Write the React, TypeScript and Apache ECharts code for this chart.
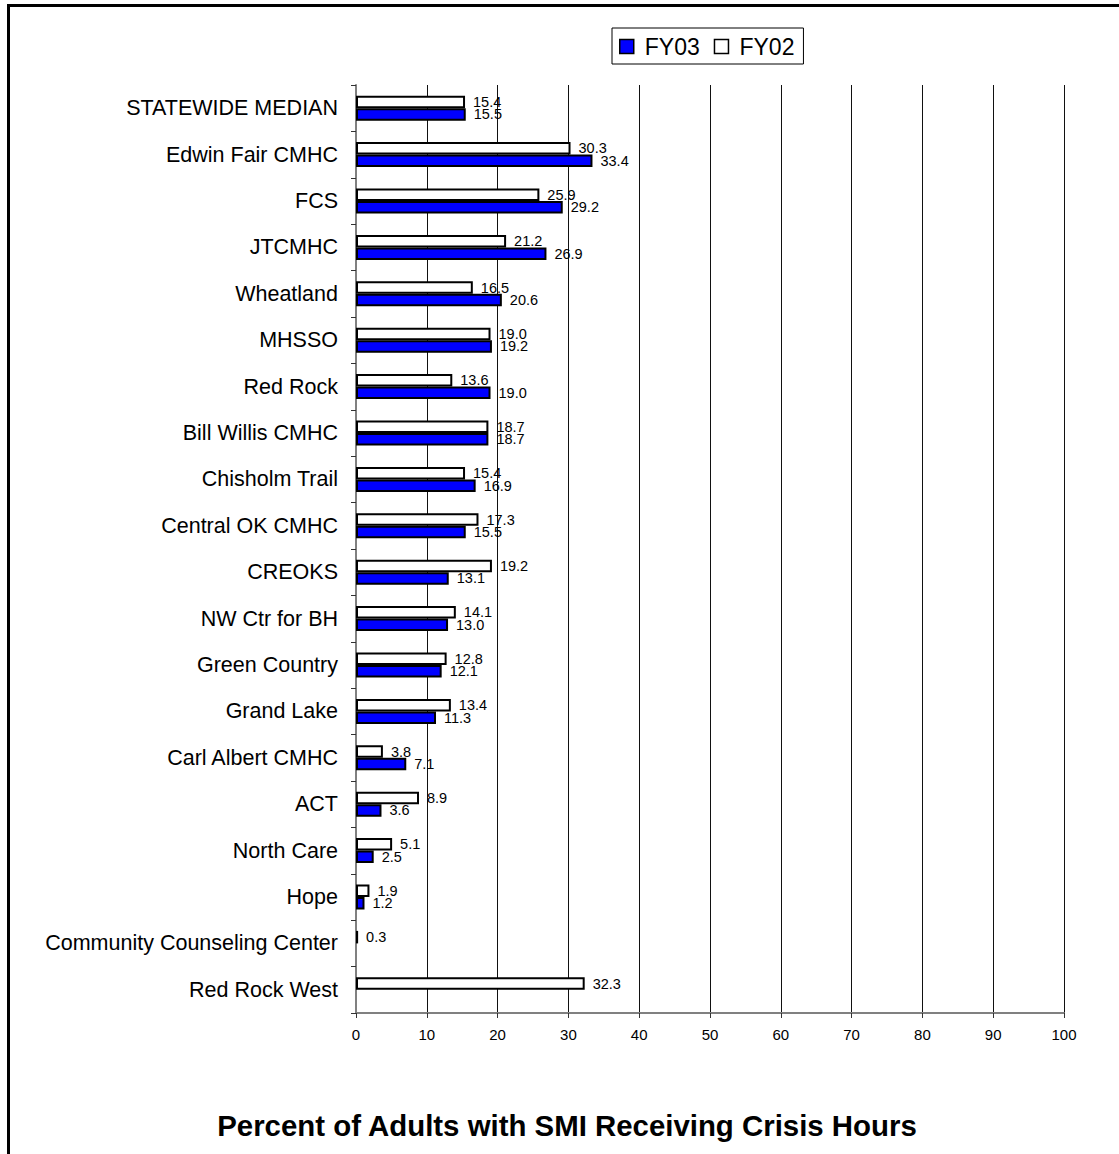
import React, { useEffect, useRef } from "react";
import * as echarts from "echarts";

const categories = [
  "STATEWIDE MEDIAN",
  "Edwin Fair CMHC",
  "FCS",
  "JTCMHC",
  "Wheatland",
  "MHSSO",
  "Red Rock",
  "Bill Willis CMHC",
  "Chisholm Trail",
  "Central OK CMHC",
  "CREOKS",
  "NW Ctr for BH",
  "Green Country",
  "Grand Lake",
  "Carl Albert CMHC",
  "ACT",
  "North Care",
  "Hope",
  "Community Counseling Center",
  "Red Rock West",
];

const fy02 = [15.4, 30.3, 25.9, 21.2, 16.5, 19.0, 13.6, 18.7, 15.4, 17.3, 19.2, 14.1, 12.8, 13.4, 3.8, 8.9, 5.1, 1.9, 0.3, 32.3];
const fy03 = [15.5, 33.4, 29.2, 26.9, 20.6, 19.2, 19.0, 18.7, 16.9, 15.5, 13.1, 13.0, 12.1, 11.3, 7.1, 3.6, 2.5, 1.2, null, null];

const xTicks = { min: 0, max: 100, interval: 10 };
const titleText = "Percent of Adults with SMI Receiving Crisis Hours";

const FONT = "Arial, 'Liberation Sans', sans-serif";

export default function App() {
  const ref = useRef<HTMLDivElement>(null);
  useEffect(() => {
    if (!ref.current) return;
    const chart = echarts.init(ref.current, null, { renderer: "svg" });
    const label = {
      show: true,
      position: "right",
      distance: 8,
      color: "#000",
      fontSize: 14.5,
      fontFamily: FONT,
      formatter: (p: any) => (p.value == null ? "" : Number(p.value).toFixed(1)),
    };
    chart.setOption({
      animation: false,
      backgroundColor: "#fff",
      textStyle: { fontFamily: FONT },
      title: {
        text: titleText,
        left: 562,
        textAlign: "center",
        top: 1106,
        textStyle: { fontSize: 29.4, fontWeight: "bold", color: "#000", fontFamily: FONT },
      },
      legend: {
        data: ["FY03", "FY02"],
        left: 612,
        top: 28,
        padding: [7, 9, 6, 7],
        borderColor: "#000",
        borderWidth: 1,
        itemWidth: 14,
        itemHeight: 14,
        itemGap: 14,
        icon: "rect",
        itemStyle: { borderColor: "#000", borderWidth: 1.5 },
        textStyle: { fontSize: 23, color: "#000", fontFamily: FONT, padding: [0, 0, 0, 6] },
      },
      grid: { left: 356, right: 55, top: 85, bottom: 141, containLabel: false },
      xAxis: {
        type: "value",
        min: xTicks.min,
        max: xTicks.max,
        interval: xTicks.interval,
        axisLine: { show: true, lineStyle: { color: "#808080", width: 2 } },
        axisTick: { show: true, length: 5, lineStyle: { color: "#333" } },
        axisLabel: { fontSize: 15, color: "#000", margin: 14, fontFamily: FONT },
        splitLine: { show: true, lineStyle: { color: "#111", width: 1 } },
      },
      yAxis: {
        type: "category",
        data: categories,
        inverse: true,
        axisLine: { show: true, lineStyle: { color: "#808080", width: 2 } },
        axisTick: { show: true, length: 5, lineStyle: { color: "#333" } },
        axisLabel: { fontSize: 21.5, color: "#000", margin: 18, fontFamily: FONT },
        splitLine: { show: false },
      },
      series: [
        {
          name: "FY02",
          type: "bar",
          data: fy02,
          barWidth: 12.5,
          barGap: "0%",
          itemStyle: { color: "#ffffff", borderColor: "#000", borderWidth: 2 },
          label,
        },
        {
          name: "FY03",
          type: "bar",
          data: fy03,
          barWidth: 12.5,
          barGap: "0%",
          itemStyle: { color: "#0000ff", borderColor: "#000", borderWidth: 2 },
          label,
        },
      ],
      graphic: [
        {
          type: "polyline",
          shape: { points: [[8.5, 1154], [8.5, 5.5], [1119, 5.5]] },
          style: { stroke: "#000", lineWidth: 3, fill: "none" },
        },
      ],
    });
    return () => chart.dispose();
  }, []);
  return (
    <div
      ref={ref}
      style={{ position: "absolute", left: 0, top: 0, width: 1119, height: 1154, background: "#fff" }}
    />
  );
}
